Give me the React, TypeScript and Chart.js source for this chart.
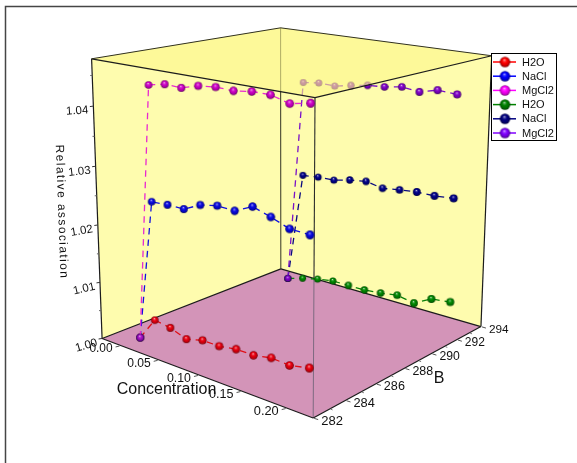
import React, { useEffect, useRef } from "react";
import { Chart, registerables } from "chart.js";
Chart.register(...registerables);

// ---- data
const concentration = [0.0, 0.0203, 0.0405, 0.0608, 0.081, 0.1013, 0.1215, 0.1418, 0.162, 0.1823, 0.2038];
const lowB = 283.15;
const highB = 293.15;
const h2oLow = [1.0, 1.0041, 1.0037, 1.0027, 1.0035, 1.0035, 1.004, 1.004, 1.0046, 1.0044, 1.0051];
const naclLow = [1.0, 1.0246, 1.0248, 1.0248, 1.0262, 1.0268, 1.0267, 1.0281, 1.0272, 1.0261, 1.026];
const mgcl2Low = [1.0, 1.0439, 1.0445, 1.0444, 1.0452, 1.0455, 1.0454, 1.0458, 1.0458, 1.045, 1.0456];
const h2oHigh = [1.0, 1.0009, 1.0016, 1.0021, 1.0021, 1.0021, 1.0024, 1.0029, 1.0023, 1.004, 1.0044];
const naclHigh = [1.0, 1.0212, 1.0215, 1.0216, 1.0223, 1.0227, 1.0221, 1.0225, 1.0228, 1.0228, 1.0231];
const mgcl2High = [1.0, 1.0388, 1.0392, 1.0391, 1.0397, 1.0402, 1.0404, 1.0409, 1.0405, 1.0413, 1.0411];
const seriesLabels = ["H2O", "NaCl", "MgCl2", "H2O", "NaCl", "MgCl2"];
const concTicks = ["0.00", "0.05", "0.10", "0.15", "0.20"];
const bTicks = ["282", "284", "286", "288", "290", "292", "294"];
const zTicks = ["1.00", "1.01", "1.02", "1.03", "1.04"];
const zMinorTicks = [1.005, 1.015, 1.025, 1.035, 1.045];
const bMinorTicks = [283, 285, 287, 289, 291, 293];

// ---- axis ranges
const concRange = [-0.0253, 0.228];
const bRange = [282, 294];
const zRange = [1.0, 1.0477];

// ---- styles
const lineColors = ["#e01018", "#1010e0", "#e828d0", "#0a800a", "#0a0a80", "#7a10c8"];
const ballColors = ["#e80010", "#0808e0", "#d000c8", "#008800", "#000088", "#8000c8"];
const legendColors = ["#ff0000", "#0000ff", "#ff00ff", "#008000", "#000080", "#8000ff"];
const drawOrder = [3, 2, 1, 6, 5, 4];

// box corners on the page: [u, v, t, px, py]
const corners: number[][] = [
  [0, 0, 0, 102, 338], [1, 0, 0, 313, 418], [0, 1, 0, 281, 269], [1, 1, 0, 481, 327],
  [0, 0, 1, 91, 59], [1, 0, 1, 316, 98], [0, 1, 1, 281, 28], [1, 1, 1, 491, 55],
];

function fitCamera(): number[][] {
  const A: number[][] = [], b: number[] = [];
  for (const [u, v, t, x, y] of corners) {
    A.push([u, v, t, 1, 0, 0, 0, 0, -x * u, -x * v, -x * t]); b.push(x);
    A.push([0, 0, 0, 0, u, v, t, 1, -y * u, -y * v, -y * t]); b.push(y);
  }
  const n = 11;
  const M = Array.from({ length: n }, (_, i) => {
    const r = Array(n + 1).fill(0);
    for (let j = 0; j < n; j++) for (let k = 0; k < A.length; k++) r[j] += A[k][i] * A[k][j];
    for (let k = 0; k < A.length; k++) r[n] += A[k][i] * b[k];
    return r;
  });
  for (let i = 0; i < n; i++) {
    let p = i;
    for (let k = i; k < n; k++) if (Math.abs(M[k][i]) > Math.abs(M[p][i])) p = k;
    [M[i], M[p]] = [M[p], M[i]];
    for (let k = 0; k < n; k++) if (k !== i) {
      const f = M[k][i] / M[i][i];
      for (let j = i; j <= n; j++) M[k][j] -= f * M[i][j];
    }
  }
  const s = M.map((r, i) => r[n] / r[i]);
  return [s.slice(0, 4), s.slice(4, 8), [...s.slice(8, 11), 1]];
}
const cam = fitCamera();
const projUVT = (u: number, v: number, t: number) => {
  const h = (r: number[]) => r[0] * u + r[1] * v + r[2] * t + r[3];
  const w = h(cam[2]);
  return { x: h(cam[0]) / w, y: h(cam[1]) / w };
};
const norm = (val: number, r: number[]) => (val - r[0]) / (r[1] - r[0]);
const project = (c: number, b: number, z: number) =>
  projUVT(norm(c, concRange), norm(b, bRange), norm(z, zRange));

function shade(hex: string, f: number) {
  const n = parseInt(hex.slice(1), 16);
  const m = (v: number) => Math.round(f <= 1 ? v * f : v + (255 - v) * (f - 1));
  return `rgb(${m((n >> 16) & 255)},${m((n >> 8) & 255)},${m(n & 255)})`;
}
function makeBall(color: string, r: number) {
  const size = Math.ceil(2 * r) + 2;
  const cv = document.createElement("canvas");
  cv.width = size; cv.height = size;
  const g = cv.getContext("2d")!;
  const c = size / 2;
  const grad = g.createRadialGradient(c - 0.12 * r, c - 0.42 * r, 0, c, c, r * 1.02);
  grad.addColorStop(0, shade(color, 1.85));
  grad.addColorStop(0.2, shade(color, 1.25));
  grad.addColorStop(0.45, color);
  grad.addColorStop(0.8, shade(color, 0.8));
  grad.addColorStop(1, shade(color, 0.42));
  g.fillStyle = grad;
  g.beginPath(); g.arc(c, c, r, 0, Math.PI * 2); g.fill();
  return cv;
}

const sources = [
  { b: lowB, values: h2oLow }, { b: lowB, values: naclLow }, { b: lowB, values: mgcl2Low },
  { b: highB, values: h2oHigh }, { b: highB, values: naclHigh }, { b: highB, values: mgcl2High },
];

function poly(g: CanvasRenderingContext2D, pts: { x: number; y: number }[]) {
  g.beginPath();
  pts.forEach((p, i) => (i ? g.lineTo(p.x, p.y) : g.moveTo(p.x, p.y)));
  g.closePath();
}
function seg(g: CanvasRenderingContext2D, a: { x: number; y: number }, b: { x: number; y: number }, color: string, w: number) {
  g.strokeStyle = color; g.lineWidth = w;
  g.beginPath(); g.moveTo(a.x, a.y); g.lineTo(b.x, b.y); g.stroke();
}

const boxBack = {
  id: "boxBack",
  beforeDatasetsDraw(chart: any) {
    const g: CanvasRenderingContext2D = chart.ctx;
    g.save();
    // frame
    g.strokeStyle = "#454545"; g.lineWidth = 1.5;
    g.beginPath(); g.moveTo(5.5, 480); g.lineTo(5.5, 6.5); g.lineTo(590, 6.5); g.stroke();
    const P = projUVT;
    // walls
    g.fillStyle = "#fefcae";
    poly(g, [P(0, 0, 1), P(0, 1, 1), P(0, 1, 0), P(0, 0, 0)]); g.fill();
    poly(g, [P(0, 1, 1), P(1, 1, 1), P(1, 1, 0), P(0, 1, 0)]); g.fill();
    seg(g, P(0, 1, 1), P(0, 1, 0), "#333320", 1);
    // base
    g.fillStyle = "#d394b8";
    poly(g, [P(0, 0, 0), P(1, 0, 0), P(1, 1, 0), P(0, 1, 0)]); g.fill();
    // front upright, faded where it crosses the base
    const top = P(1, 0, 1), bot = P(1, 0, 0);
    const f = (279 - top.y) / (bot.y - top.y);
    const mid = { x: top.x + (bot.x - top.x) * f, y: 279 };
    seg(g, top, mid, "#2a2a2a", 1.1);
    seg(g, mid, bot, "#7d6a80", 1);
    // floor and wall edges
    const edge = "#1c1c1c";
    seg(g, P(0, 0, 0), P(0, 1, 0), edge, 1.2);
    seg(g, P(0, 1, 0), P(1, 1, 0), edge, 1.2);
    seg(g, P(0, 0, 0), P(1, 0, 0), edge, 1.2);
    seg(g, P(1, 0, 0), P(1, 1, 0), edge, 1.2);
    seg(g, P(0, 0, 0), P(0, 0, 1), edge, 1.2);
    seg(g, P(1, 1, 0), P(1, 1, 1), edge, 1.2);
    g.restore();
  },
};

function label(g: CanvasRenderingContext2D, text: string, x: number, y: number, font: string, align: CanvasTextAlign, rot = 0) {
  g.save();
  g.translate(x, y); g.rotate((rot * Math.PI) / 180);
  g.font = font; g.textAlign = align; g.textBaseline = "middle"; g.fillStyle = "#111";
  g.fillText(text, 0, 0);
  g.restore();
}

const boxFront = {
  id: "boxFront",
  afterDatasetsDraw(chart: any) {
    const g: CanvasRenderingContext2D = chart.ctx;
    g.save();
    const P = projUVT;
    // translucent lid
    g.fillStyle = "rgba(252,247,140,0.62)";
    poly(g, [P(0, 0, 1), P(0, 1, 1), P(1, 1, 1), P(1, 0, 1)]); g.fill();
    const edge = "#1c1c1c";
    seg(g, P(0, 0, 1), P(1, 0, 1), edge, 1.2);
    seg(g, P(1, 0, 1), P(1, 1, 1), edge, 1.2);
    seg(g, P(0, 0, 1), P(0, 1, 1), "#303020", 1);
    seg(g, P(0, 1, 1), P(1, 1, 1), "#303020", 1);

    // concentration axis
    concTicks.forEach((tx) => {
      const c = parseFloat(tx), u = norm(c, concRange);
      const p = project(c, bRange[0], zRange[0]);
      seg(g, { x: p.x - 1, y: p.y + 0.5 }, { x: p.x - 5, y: p.y + 1.5 }, "#555", 1);
      label(g, tx, p.x - 8, p.y + 3.5, `${(11.8 + 1.1 * u).toFixed(1)}px "Liberation Sans"`, "right");
    });
    // B axis
    bMinorTicks.forEach((b) => {
      const p = project(concRange[1], b, zRange[0]);
      seg(g, { x: p.x + 1, y: p.y }, { x: p.x + 3, y: p.y + 0.8 }, "#777", 1);
    });
    bTicks.forEach((tx) => {
      const b = parseFloat(tx), v = norm(b, bRange);
      const p = project(concRange[1], b, zRange[0]);
      seg(g, { x: p.x + 1, y: p.y + 0.3 }, { x: p.x + 5, y: p.y + 1.5 }, "#555", 1);
      label(g, tx, p.x + 8, p.y + 3, `${(13 - 1.2 * v).toFixed(1)}px "Liberation Sans"`, "left");
    });
    // vertical axis
    zMinorTicks.forEach((z) => {
      const p = project(concRange[0], bRange[0], z);
      seg(g, { x: p.x - 2, y: p.y }, { x: p.x, y: p.y }, "#666", 1);
    });
    zTicks.forEach((tx, i) => {
      const z = parseFloat(tx);
      const p = project(concRange[0], bRange[0], z);
      seg(g, { x: p.x - 3.5, y: p.y + 0.5 }, { x: p.x, y: p.y }, "#333", 1);
      label(g, tx, p.x - 5, p.y + 4, `11.5px "Liberation Sans"`, "right", -16 + i * 3);
    });
    // titles
    label(g, "Concentration", 166.5, 390, `16px "Liberation Sans"`, "center");
    label(g, "B", 439, 379, `16px "Liberation Sans"`, "center");
    g.save();
    (g as any).letterSpacing = "1.4px";
    label(g, "Relative association", 61.5, 212, `12px "Liberation Sans"`, "center", 88);
    g.restore();

    // legend
    g.fillStyle = "#fff";
    g.fillRect(491.5, 53.5, 65, 87);
    g.strokeStyle = "#000"; g.lineWidth = 1;
    g.strokeRect(491.5, 53.5, 65, 87);
    chart.data.datasets.forEach((d: any, i: number) => {
      const y = 62 + i * 14.2;
      seg(g, { x: 493, y }, { x: 516, y }, legendColors[i], 1.5);
      const ball = makeBall(legendColors[i], 5.2);
      g.drawImage(ball, 505 - ball.width / 2, y - ball.height / 2);
      label(g, d.label, 522, y + 0.5, `11px "Liberation Sans"`, "left");
    });
    g.restore();
  },
};

export default function App() {
  const ref = useRef<HTMLCanvasElement>(null);
  useEffect(() => {
    const chart = new Chart(ref.current!, {
      type: "scatter",
      data: {
        datasets: sources.map((s, i) => ({
          label: seriesLabels[i],
          data: s.values.map((z, k) => project(concentration[k], s.b, z)),
          showLine: true,
          order: drawOrder[i],
          borderColor: lineColors[i],
          borderWidth: 1.3,
          borderDash: [6.5, 5],
          pointRadius: 4,
          pointStyle: (ctx: any) => {
            const k = ctx.dataIndex;
            const u = norm(concentration[k] ?? 0, concRange), v = norm(s.b, bRange);
            const col = i === 2 && k === 0 ? "#a810c8" : ballColors[i];
            return makeBall(col, 3.7 + 0.85 * u - 0.45 * v);
          },
        })),
      },
      options: {
        animation: false,
        responsive: false,
        events: [],
        layout: { padding: 0, autoPadding: false },
        plugins: { legend: { display: false }, tooltip: { enabled: false } },
        scales: {
          x: { type: "linear", display: false, min: 0, max: 577 },
          y: { type: "linear", display: false, min: 0, max: 463, reverse: true },
        },
      },
      plugins: [boxBack, boxFront],
    } as any);
    return () => chart.destroy();
  }, []);
  return (
    <canvas ref={ref} width={577} height={463}
      style={{ position: "absolute", left: 0, top: 0, display: "block", background: "#fff", filter: "blur(0.3px)" }} />
  );
}
